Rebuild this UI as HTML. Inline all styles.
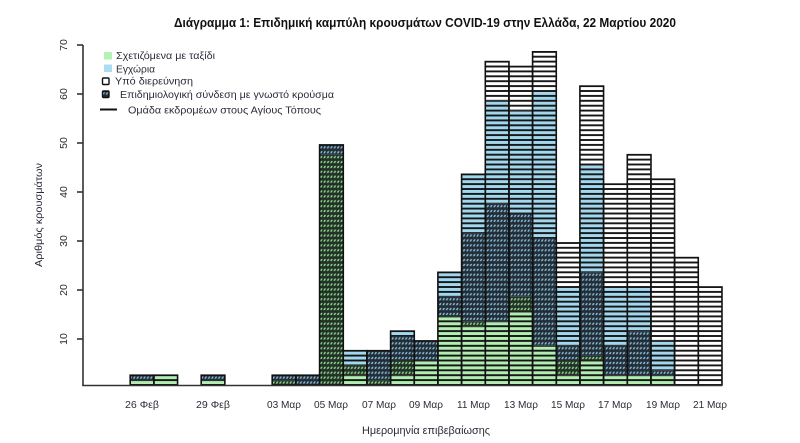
<!DOCTYPE html>
<html>
<head>
<meta charset="utf-8">
<style>
html,body{margin:0;padding:0;background:#fff;}
svg{display:block;}
text{font-family:"Liberation Sans","DejaVu Sans",sans-serif;fill:#2b2b38;}
</style>
</head>
<body>
<svg width="800" height="443" viewBox="0 0 800 443" xmlns="http://www.w3.org/2000/svg">
<defs>
  <pattern id="pg" patternUnits="userSpaceOnUse" x="0" y="385" width="10" height="4.9">
    <rect width="10" height="4.9" fill="#b2eeb2"/>
    <rect y="0" width="10" height="0.95" fill="#151515"/>
    <rect y="3.95" width="10" height="0.95" fill="#151515"/>
  </pattern>
  <pattern id="pb" patternUnits="userSpaceOnUse" x="0" y="385" width="10" height="4.9">
    <rect width="10" height="4.9" fill="#a2d8ef"/>
    <rect y="0" width="10" height="0.95" fill="#151515"/>
    <rect y="3.95" width="10" height="0.95" fill="#151515"/>
  </pattern>
  <pattern id="pw" patternUnits="userSpaceOnUse" x="0" y="385" width="10" height="4.9">
    <rect width="10" height="4.9" fill="#ffffff"/>
    <rect y="0" width="10" height="0.95" fill="#151515"/>
    <rect y="3.95" width="10" height="0.95" fill="#151515"/>
  </pattern>
  <pattern id="hg" patternUnits="userSpaceOnUse" x="0" y="385" width="3.4" height="4.9">
    <rect width="3.4" height="4.9" fill="#233027"/>
    <path d="M0.2 3.6 L1.4 1.3 L3.1 1.3 L1.9 3.6Z" fill="#8cd88c"/>
  </pattern>
  <pattern id="hb" patternUnits="userSpaceOnUse" x="0" y="385" width="3.4" height="4.9">
    <rect width="3.4" height="4.9" fill="#232d36"/>
    <path d="M0.2 3.6 L1.4 1.3 L3.1 1.3 L1.9 3.6Z" fill="#86bcda"/>
  </pattern>
</defs>

<!-- Title -->
<text x="174" y="27" font-size="12.5" font-weight="bold" style="fill:#111" textLength="502" lengthAdjust="spacingAndGlyphs">Διάγραμμα 1: Επιδημική καμπύλη κρουσμάτων COVID-19 στην Ελλάδα, 22 Μαρτίου 2020</text>

<!-- Bars -->
<g>
<rect x="130.2" y="380.1" width="23.67" height="4.9" fill="url(#pg)"/>
<rect x="130.2" y="375.2" width="23.67" height="4.9" fill="url(#hb)"/>
<rect x="153.9" y="375.2" width="23.67" height="9.8" fill="url(#pg)"/>
<rect x="201.2" y="380.1" width="23.67" height="4.9" fill="url(#pg)"/>
<rect x="201.2" y="375.2" width="23.67" height="4.9" fill="url(#hb)"/>
<rect x="272.2" y="380.1" width="23.67" height="4.9" fill="url(#hg)"/>
<rect x="272.2" y="375.2" width="23.67" height="4.9" fill="url(#hb)"/>
<rect x="295.9" y="375.2" width="23.67" height="9.8" fill="url(#hb)"/>
<rect x="319.6" y="154.7" width="23.67" height="230.3" fill="url(#hg)"/>
<rect x="319.6" y="144.9" width="23.67" height="9.8" fill="url(#hb)"/>
<rect x="343.2" y="375.2" width="23.67" height="9.8" fill="url(#pg)"/>
<rect x="343.2" y="365.4" width="23.67" height="9.8" fill="url(#hg)"/>
<rect x="343.2" y="350.7" width="23.67" height="14.7" fill="url(#pb)"/>
<rect x="366.9" y="380.1" width="23.67" height="4.9" fill="url(#hg)"/>
<rect x="366.9" y="350.7" width="23.67" height="29.4" fill="url(#hb)"/>
<rect x="390.6" y="375.2" width="23.67" height="9.8" fill="url(#pg)"/>
<rect x="390.6" y="360.5" width="23.67" height="14.7" fill="url(#hg)"/>
<rect x="390.6" y="336.0" width="23.67" height="24.5" fill="url(#hb)"/>
<rect x="390.6" y="331.1" width="23.67" height="4.9" fill="url(#pb)"/>
<rect x="414.2" y="360.5" width="23.67" height="24.5" fill="url(#pg)"/>
<rect x="414.2" y="340.9" width="23.67" height="19.6" fill="url(#hb)"/>
<rect x="437.9" y="316.4" width="23.67" height="68.6" fill="url(#pg)"/>
<rect x="437.9" y="296.8" width="23.67" height="19.6" fill="url(#hb)"/>
<rect x="437.9" y="272.3" width="23.67" height="24.5" fill="url(#pb)"/>
<rect x="461.6" y="326.2" width="23.67" height="58.8" fill="url(#pg)"/>
<rect x="461.6" y="321.3" width="23.67" height="4.9" fill="url(#hg)"/>
<rect x="461.6" y="233.1" width="23.67" height="88.2" fill="url(#hb)"/>
<rect x="461.6" y="174.3" width="23.67" height="58.8" fill="url(#pb)"/>
<rect x="485.3" y="321.3" width="23.67" height="63.7" fill="url(#pg)"/>
<rect x="485.3" y="203.7" width="23.67" height="117.6" fill="url(#hb)"/>
<rect x="485.3" y="100.8" width="23.67" height="102.9" fill="url(#pb)"/>
<rect x="485.3" y="61.6" width="23.67" height="39.2" fill="url(#pw)"/>
<rect x="508.9" y="311.5" width="23.67" height="73.5" fill="url(#pg)"/>
<rect x="508.9" y="296.8" width="23.67" height="14.7" fill="url(#hg)"/>
<rect x="508.9" y="213.5" width="23.67" height="83.3" fill="url(#hb)"/>
<rect x="508.9" y="110.6" width="23.67" height="102.9" fill="url(#pb)"/>
<rect x="508.9" y="66.5" width="23.67" height="44.1" fill="url(#pw)"/>
<rect x="532.6" y="345.8" width="23.67" height="39.2" fill="url(#pg)"/>
<rect x="532.6" y="238.0" width="23.67" height="107.8" fill="url(#hb)"/>
<rect x="532.6" y="91.0" width="23.67" height="147" fill="url(#pb)"/>
<rect x="532.6" y="51.8" width="23.67" height="39.2" fill="url(#pw)"/>
<rect x="556.3" y="375.2" width="23.67" height="9.8" fill="url(#pg)"/>
<rect x="556.3" y="360.5" width="23.67" height="14.7" fill="url(#hg)"/>
<rect x="556.3" y="345.8" width="23.67" height="14.7" fill="url(#hb)"/>
<rect x="556.3" y="287.0" width="23.67" height="58.8" fill="url(#pb)"/>
<rect x="556.3" y="242.9" width="23.67" height="44.1" fill="url(#pw)"/>
<rect x="579.9" y="360.5" width="23.67" height="24.5" fill="url(#pg)"/>
<rect x="579.9" y="355.6" width="23.67" height="4.9" fill="url(#hg)"/>
<rect x="579.9" y="272.3" width="23.67" height="83.3" fill="url(#hb)"/>
<rect x="579.9" y="164.5" width="23.67" height="107.8" fill="url(#pb)"/>
<rect x="579.9" y="86.1" width="23.67" height="78.4" fill="url(#pw)"/>
<rect x="603.6" y="375.2" width="23.67" height="9.8" fill="url(#pg)"/>
<rect x="603.6" y="345.8" width="23.67" height="29.4" fill="url(#hb)"/>
<rect x="603.6" y="287.0" width="23.67" height="58.8" fill="url(#pb)"/>
<rect x="603.6" y="184.1" width="23.67" height="102.9" fill="url(#pw)"/>
<rect x="627.3" y="375.2" width="23.67" height="9.8" fill="url(#pg)"/>
<rect x="627.3" y="331.1" width="23.67" height="44.1" fill="url(#hb)"/>
<rect x="627.3" y="287.0" width="23.67" height="44.1" fill="url(#pb)"/>
<rect x="627.3" y="154.7" width="23.67" height="132.3" fill="url(#pw)"/>
<rect x="650.9" y="375.2" width="23.67" height="9.8" fill="url(#pg)"/>
<rect x="650.9" y="370.3" width="23.67" height="4.9" fill="url(#hb)"/>
<rect x="650.9" y="340.9" width="23.67" height="29.4" fill="url(#pb)"/>
<rect x="650.9" y="179.2" width="23.67" height="161.7" fill="url(#pw)"/>
<rect x="674.6" y="380.1" width="23.67" height="4.9" fill="url(#pg)"/>
<rect x="674.6" y="350.7" width="23.67" height="29.4" fill="url(#pb)"/>
<rect x="674.6" y="257.6" width="23.67" height="127.4" fill="url(#pw)"/>
<rect x="698.3" y="287.0" width="23.67" height="98" fill="url(#pw)"/>
</g>

<!-- Bar outlines -->
<g fill="none" stroke="#111" stroke-width="1.6">
<rect x="130.2" y="375.2" width="23.67" height="9.8"/>
<rect x="153.9" y="375.2" width="23.67" height="9.8"/>
<rect x="201.2" y="375.2" width="23.67" height="9.8"/>
<rect x="272.2" y="375.2" width="23.67" height="9.8"/>
<rect x="295.9" y="375.2" width="23.67" height="9.8"/>
<rect x="319.6" y="144.9" width="23.67" height="240.1"/>
<rect x="343.2" y="350.7" width="23.67" height="34.3"/>
<rect x="366.9" y="350.7" width="23.67" height="34.3"/>
<rect x="390.6" y="331.1" width="23.67" height="53.9"/>
<rect x="414.2" y="340.9" width="23.67" height="44.1"/>
<rect x="437.9" y="272.3" width="23.67" height="112.7"/>
<rect x="461.6" y="174.3" width="23.67" height="210.7"/>
<rect x="485.3" y="61.6" width="23.67" height="323.4"/>
<rect x="508.9" y="66.5" width="23.67" height="318.5"/>
<rect x="532.6" y="51.8" width="23.67" height="333.2"/>
<rect x="556.3" y="242.9" width="23.67" height="142.1"/>
<rect x="579.9" y="86.1" width="23.67" height="298.9"/>
<rect x="603.6" y="184.1" width="23.67" height="200.9"/>
<rect x="627.3" y="154.7" width="23.67" height="230.3"/>
<rect x="650.9" y="179.2" width="23.67" height="205.8"/>
<rect x="674.6" y="257.6" width="23.67" height="127.4"/>
<rect x="698.3" y="287.0" width="23.67" height="98"/>
</g>

<!-- Axes -->
<g stroke="#333" stroke-width="1.6" fill="none">
<line x1="83" y1="45" x2="83" y2="385.5"/>
<line x1="82.2" y1="385.5" x2="722" y2="385.5"/>
<line x1="77" y1="339" x2="83" y2="339"/>
<line x1="77" y1="290" x2="83" y2="290"/>
<line x1="77" y1="241" x2="83" y2="241"/>
<line x1="77" y1="192" x2="83" y2="192"/>
<line x1="77" y1="143" x2="83" y2="143"/>
<line x1="77" y1="94" x2="83" y2="94"/>
<line x1="77" y1="45" x2="83" y2="45"/>
</g>

<!-- Y tick labels -->
<g font-size="10.5" text-anchor="middle">
<text transform="translate(67,339) rotate(-90)">10</text>
<text transform="translate(67,290) rotate(-90)">20</text>
<text transform="translate(67,241) rotate(-90)">30</text>
<text transform="translate(67,192) rotate(-90)">40</text>
<text transform="translate(67,143) rotate(-90)">50</text>
<text transform="translate(67,94) rotate(-90)">60</text>
<text transform="translate(67,45) rotate(-90)">70</text>
</g>

<!-- Y title -->
<text transform="translate(42,215) rotate(-90)" font-size="10.5" text-anchor="middle" textLength="104" lengthAdjust="spacingAndGlyphs">Αριθμός κρουσμάτων</text>

<!-- X tick labels -->
<g font-size="10.5">
<text x="125" y="408" textLength="34" lengthAdjust="spacingAndGlyphs">26 Φεβ</text>
<text x="196" y="408" textLength="34" lengthAdjust="spacingAndGlyphs">29 Φεβ</text>
<text x="267" y="408" textLength="34" lengthAdjust="spacingAndGlyphs">03 Μαρ</text>
<text x="314" y="408" textLength="34" lengthAdjust="spacingAndGlyphs">05 Μαρ</text>
<text x="362" y="408" textLength="34" lengthAdjust="spacingAndGlyphs">07 Μαρ</text>
<text x="409" y="408" textLength="34" lengthAdjust="spacingAndGlyphs">09 Μαρ</text>
<text x="457" y="408" textLength="33" lengthAdjust="spacingAndGlyphs">11 Μαρ</text>
<text x="504" y="408" textLength="34" lengthAdjust="spacingAndGlyphs">13 Μαρ</text>
<text x="551" y="408" textLength="34" lengthAdjust="spacingAndGlyphs">15 Μαρ</text>
<text x="598" y="408" textLength="34" lengthAdjust="spacingAndGlyphs">17 Μαρ</text>
<text x="646" y="408" textLength="34" lengthAdjust="spacingAndGlyphs">19 Μαρ</text>
<text x="693" y="408" textLength="34" lengthAdjust="spacingAndGlyphs">21 Μαρ</text>
</g>

<!-- X title -->
<text x="362" y="434" font-size="11" textLength="128" lengthAdjust="spacingAndGlyphs">Ημερομηνία επιβεβαίωσης</text>

<!-- Legend -->
<rect x="104" y="52" width="8" height="7.5" fill="#b4f2b4"/>
<rect x="104" y="64.5" width="8" height="7.5" fill="#acdcf2"/>
<rect x="102.5" y="78" width="6.5" height="6.5" fill="#fff" stroke="#111" stroke-width="1.4" rx="1"/>
<rect x="102.5" y="91" width="6.5" height="6.5" fill="url(#hb)" stroke="#111" stroke-width="1.4" rx="1"/>
<line x1="100" y1="109.5" x2="117" y2="109.5" stroke="#111" stroke-width="2"/>
<g font-size="10.5">
<text x="116" y="59" textLength="99" lengthAdjust="spacingAndGlyphs">Σχετιζόμενα με ταξίδι</text>
<text x="116" y="72.5" textLength="39" lengthAdjust="spacingAndGlyphs">Εγχώρια</text>
<text x="115" y="84.5" textLength="78" lengthAdjust="spacingAndGlyphs">Υπό διερεύνηση</text>
<text x="120" y="98" textLength="214" lengthAdjust="spacingAndGlyphs">Επιδημιολογική σύνδεση με γνωστό κρούσμα</text>
<text x="128" y="113.5" textLength="193" lengthAdjust="spacingAndGlyphs">Ομάδα εκδρομέων στους Αγίους Τόπους</text>
</g>
</svg>
</body>
</html>
